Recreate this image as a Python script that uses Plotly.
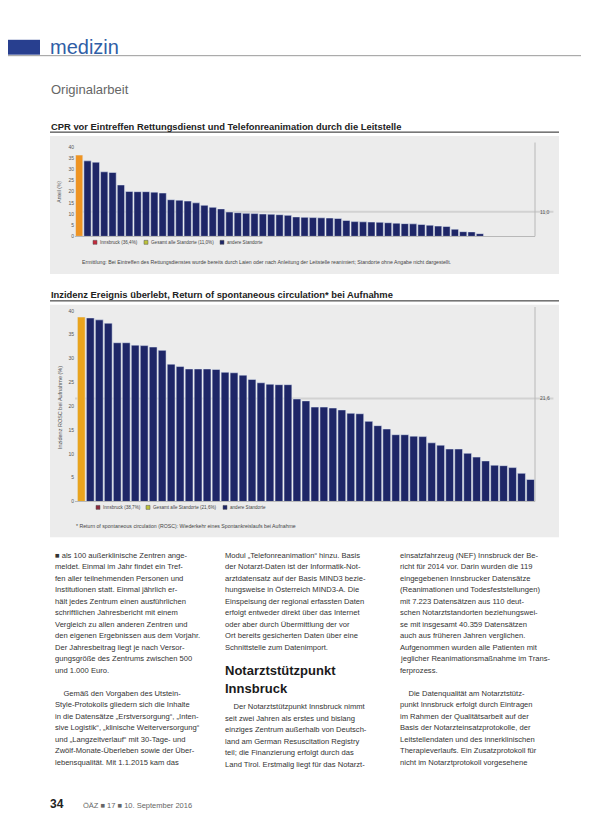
import plotly.graph_objects as go

W, H = 589, 830

# Anteil CPR vor Eintreffen des Rettungsdienstes (%), Standorte absteigend, erster = Innsbruck
cpr_values = [36.4, 33.8, 33.2, 28.9, 28.6, 23.0, 20.1, 20.0, 20.0, 19.8,
              19.4, 16.4, 16.2, 15.8, 15.0, 13.9, 13.0, 12.3, 10.9, 10.6,
              10.3, 10.2, 10.0, 9.9, 9.7, 9.4, 8.7, 8.5, 8.4, 8.3,
              8.2, 8.0, 7.1, 6.6, 6.5, 6.4, 6.3, 6.1, 5.9, 5.7,
              5.6, 5.3, 5.0, 4.6, 4.4, 3.2, 2.1, 2.0, 1.2]
cpr_mean = 11.0

# ROSC bei Aufnahme (%), Standorte absteigend, erster = Innsbruck
rosc_values = [38.7, 38.5, 38.1, 37.4, 33.3, 33.3, 32.8, 32.7, 32.4, 31.7,
               28.8, 28.3, 27.8, 27.8, 27.8, 27.7, 27.1, 27.0, 26.5, 25.6,
               24.9, 24.6, 24.5, 24.5, 21.5, 21.1, 19.8, 19.8, 19.6, 19.2,
               18.5, 18.4, 16.8, 15.9, 15.2, 14.0, 14.0, 13.7, 13.6, 12.3,
               11.8, 11.0, 11.0, 10.1, 9.3, 8.5, 7.6, 7.5, 7.1, 5.9, 4.6]
rosc_mean = 21.6

y_ticks = [0, 5, 10, 15, 20, 25, 30, 35, 40]
legend1_labels = ["Innsbruck (36,4%)", "Gesamt alle Standorte (11,0%)", "andere Standorte"]
legend2_labels = ["Innsbruck (38,7%)", "Gesamt alle Standorte (21,6%)", "andere Standorte"]

col1_lines = [
    "■ als 100 außerklinische Zentren ange-",
    "meldet. Einmal im Jahr findet ein Tref-",
    "fen aller teilnehmenden Personen und",
    "Institutionen statt. Einmal jährlich er-",
    "hält jedes Zentrum einen ausführlichen",
    "schriftlichen Jahresbericht mit einem",
    "Vergleich zu allen anderen Zentren und",
    "den eigenen Ergebnissen aus dem Vorjahr.",
    "Der Jahresbeitrag liegt je nach Versor-",
    "gungsgröße des Zentrums zwischen 500",
    "und 1.000 Euro.",
    "",
    "    Gemäß den Vorgaben des Utstein-",
    "Style-Protokolls gliedern sich die Inhalte",
    "in die Datensätze „Erstversorgung“, „Inten-",
    "sive Logistik“, „klinische Weiterversorgung“",
    "und „Langzeitverlauf“ mit 30-Tage- und",
    "Zwölf-Monate-Überleben sowie der Über-",
    "lebensqualität. Mit 1.1.2015 kam das",
]
col2_lines = [
    "Modul „Telefonreanimation“ hinzu. Basis",
    "der Notarzt-Daten ist der Informatik-Not-",
    "arztdatensatz auf der Basis MIND3 bezie-",
    "hungsweise in Österreich MIND3-A. Die",
    "Einspeisung der regional erfassten Daten",
    "erfolgt entweder direkt über das Internet",
    "oder aber durch Übermittlung der vor",
    "Ort bereits gesicherten Daten über eine",
    "Schnittstelle zum Datenimport.",
]
col2_heading = ["Notarztstützpunkt", "Innsbruck"]
col2_lines_b = [
    "    Der Notarztstützpunkt Innsbruck nimmt",
    "seit zwei Jahren als erstes und bislang",
    "einziges Zentrum außerhalb von Deutsch-",
    "land am German Resuscitation Registry",
    "teil; die Finanzierung erfolgt durch das",
    "Land Tirol. Erstmalig liegt für das Notarzt-",
]
col3_lines = [
    "einsatzfahrzeug (NEF) Innsbruck der Be-",
    "richt für 2014 vor. Darin wurden die 119",
    "eingegebenen Innsbrucker Datensätze",
    "(Reanimationen und Todesfeststellungen)",
    "mit 7.223 Datensätzen aus 110 deut-",
    "schen Notarztstandorten beziehungswei-",
    "se mit insgesamt 40.359 Datensätzen",
    "auch aus früheren Jahren verglichen.",
    "Aufgenommen wurden alle Patienten mit",
    "jeglicher Reanimationsmaßnahme im Trans-",
    "ferprozess.",
    "",
    "    Die Datenqualität am Notarztstütz-",
    "punkt Innsbruck erfolgt durch Eintragen",
    "im Rahmen der Qualitätsarbeit auf der",
    "Basis der Notarzteinsatzprotokolle, der",
    "Leitstellendaten und des innerklinischen",
    "Therapieverlaufs. Ein Zusatzprotokoll für",
    "nicht im Notarztprotokoll vorgesehene",
]

FONT = "Liberation Sans"
NAVY = "#1e2667"
ORANGE = "#ee9423"
RED = "#c42a3c"
OLIVE = "#bcc23a"


def px(x):
    return x / W


def py(y):
    return 1 - y / H


fig = go.Figure()

# chart 1 bars: Innsbruck first, then other sites
fig.add_trace(go.Bar(x=[0], y=cpr_values[:1], marker_color=ORANGE, xaxis="x", yaxis="y", showlegend=False))
fig.add_trace(go.Bar(x=list(range(1, len(cpr_values))), y=cpr_values[1:], marker_color=NAVY,
                     xaxis="x", yaxis="y", showlegend=False))

# chart 2 bars
fig.add_trace(go.Bar(x=[0], y=rosc_values[:1], marker_color="#e9a41e", xaxis="x2", yaxis="y2", showlegend=False))
fig.add_trace(go.Bar(x=list(range(1, len(rosc_values))), y=rosc_values[1:], marker_color=NAVY,
                     xaxis="x2", yaxis="y2", showlegend=False))

axis_common = dict(showgrid=False, zeroline=False, showticklabels=False, ticks="",
                   showline=True, linecolor="#b8b8b8", linewidth=1)
yaxis_common = dict(showgrid=False, zeroline=False, tickvals=y_ticks, ticks="",
                    tickfont=dict(size=5, color="#555", family=FONT), range=[0, 40],
                    showline=False)

fig.update_layout(
    width=W, height=H, autosize=False,
    margin=dict(l=0, r=0, t=0, b=0),
    paper_bgcolor="white", plot_bgcolor="#f8f8fa",
    barmode="overlay", bargap=0.13, showlegend=False,
    xaxis=dict(domain=[px(67), px(527)], range=[-0.5, 54.6], anchor="y", **axis_common),
    yaxis=dict(domain=[py(227), py(137)], anchor="x", **yaxis_common),
    xaxis2=dict(domain=[px(67), px(527)], range=[-0.7, 50.5], anchor="y2", **axis_common),
    yaxis2=dict(domain=[py(494), py(302)], anchor="x2", **yaxis_common),
)

shapes = [
    # header
    dict(type="rect", xref="paper", yref="paper", x0=0, x1=px(32), y0=py(44), y1=py(29),
         fillcolor="#283f8f", line_width=0),
    dict(type="line", xref="paper", yref="paper", x0=0, x1=1, y0=py(45), y1=py(45),
         line=dict(color="#9a9a9a", width=1)),
    # chart panels
    dict(type="rect", xref="paper", yref="paper", x0=px(42), x1=px(551), y0=py(265), y1=py(126),
         fillcolor="#ececec", line_width=0, layer="below"),
    dict(type="rect", xref="paper", yref="paper", x0=px(42), x1=px(551), y0=py(530), y1=py(296),
         fillcolor="#ececec", line_width=0, layer="below"),
    # title underlines
    dict(type="line", xref="paper", yref="paper", x0=px(42), x1=px(551), y0=py(122), y1=py(122),
         line=dict(color="#222", width=1)),
    dict(type="line", xref="paper", yref="paper", x0=px(42), x1=px(551), y0=py(292), y1=py(292),
         line=dict(color="#222", width=1)),
    # mean lines
    dict(type="line", xref="x domain", yref="y", x0=0, x1=1.04, y0=cpr_mean, y1=cpr_mean,
         line=dict(color="#d2d2d2", width=2), layer="below"),
    dict(type="line", xref="x2 domain", yref="y2", x0=0, x1=1.04, y0=rosc_mean, y1=rosc_mean,
         line=dict(color="#d2d2d2", width=2), layer="below"),
    # right frame lines
    dict(type="line", xref="x domain", yref="y domain", x0=1, x1=1, y0=0, y1=1.05,
         line=dict(color="#b8b8b8", width=1)),
    dict(type="line", xref="x2 domain", yref="y2 domain", x0=1, x1=1, y0=0, y1=1.02,
         line=dict(color="#b8b8b8", width=1)),
]

ann = []


def text(x, y, s, size=7.6, color="#333", bold=False, xanchor="left", **kw):
    ann.append(dict(xref="paper", yref="paper", x=px(x), y=py(y), text=("<b>%s</b>" % s) if bold else s,
                    showarrow=False, xanchor=xanchor, yanchor="middle",
                    font=dict(size=size, color=color, family=FONT), **kw))


def legend_row(xs, y, labels, colors):
    for x, lab, col in zip(xs, labels, colors):
        shapes.append(dict(type="rect", xref="paper", yref="paper", x0=px(x), x1=px(x + 4),
                           y0=py(y + 2), y1=py(y - 2), fillcolor=col, line=dict(color="#555", width=0.5)))
        text(x + 5, y, lab, size=4.6, color="#444")


legend_row([85, 136, 212], 233, legend1_labels, [RED, OLIVE, NAVY])
legend_row([88, 138, 215], 500, legend2_labels, ["#8e2a3e", OLIVE, NAVY])

text(40, 36, "medizin", size=20, color="#2f5ea6")
text(41, 79, "Originalarbeit", size=13, color="#666")
text(41, 116, "CPR vor Eintreffen Rettungsdienst und Telefonreanimation durch die Leitstelle",
     size=9.4, color="#222", bold=True)
text(41, 286, "Inzidenz Ereignis überlebt, Return of spontaneous circulation* bei Aufnahme",
     size=9.4, color="#222", bold=True)

# axis titles, mean labels, captions
text(51, 182, "Anteil (%)", size=5, color="#555", xanchor="center", textangle=-90)
text(52, 400, "Inzidenz ROSC bei Aufnahme (%)", size=5.5, color="#555", xanchor="center", textangle=-90)
text(530, 202, "11,0", size=5, color="#555")
text(530, 390, "21,6", size=5, color="#555")
text(72, 253, "Ermittlung: Bei Eintreffen des Rettungsdienstes wurde bereits durch Laien oder nach Anleitung "
     "der Leitstelle reanimiert; Standorte ohne Angabe nicht dargestellt.", size=5.2, color="#444")
text(66, 519, "* Return of spontaneous circulation (ROSC): Wiederkehr eines Spontankreislaufs bei Aufnahme",
     size=5.2, color="#444")

LH = 11.6
for i, line in enumerate(col1_lines):
    text(45, 548 + i * LH, line)
for i, line in enumerate(col2_lines):
    text(215, 548 + i * LH, line)
text(215, 664, col2_heading[0], size=13, color="#1a1a1a", bold=True)
text(215, 682, col2_heading[1], size=13, color="#1a1a1a", bold=True)
for i, line in enumerate(col2_lines_b):
    text(215, 701 + i * LH, line)
for i, line in enumerate(col3_lines):
    text(390, 548 + i * LH, line)

text(40, 799, "34", size=12, color="#222", bold=True)
text(73, 800, "ÖÄZ ■ 17 ■ 10. September 2016", size=7.5, color="#666")

fig.update_layout(shapes=shapes, annotations=ann)

fig.write_html("out.html")
